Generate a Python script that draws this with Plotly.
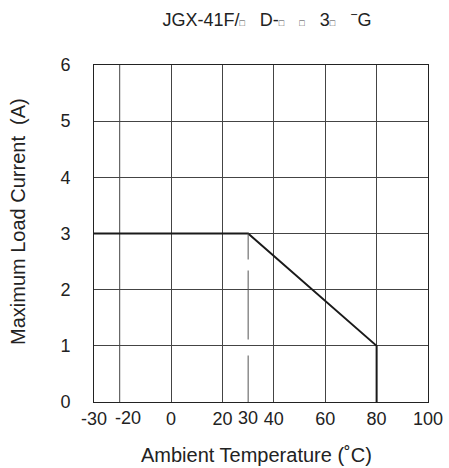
import plotly.graph_objects as go

# Data
temps = [-30, 30, 80, 80]
currents = [3, 3, 1, 0]
x_ticks = [-30, -20, 0, 20, 30, 40, 60, 80, 100]
y_ticks = [0, 1, 2, 3, 4, 5, 6]
dash_x = 30
dash_y = [3, 0]

FONT = "Liberation Sans, Arial, sans-serif"
NB = "\u00a0"
sq = '<span style="font-size:9px;fill:#444444">□</span>'
title_text = (f"JGX-41F/{sq}{NB*3}D-{sq}{NB*3}{sq}{NB*3}3{sq}{NB*3}"
              f"<sup>−</sup>G")

W, H = 449, 468
L, R, T, B = 94, 21, 65, 66

# ticks labelled by the axis; -20 and 30 get hand-offset labels (annotations)
special = {-20: 8, 30: 0}
axis_ticks = [v for v in x_ticks if v not in special]

fig = go.Figure()
fig.add_trace(go.Scatter(x=temps, y=currents, mode="lines",
                         line=dict(color="#1a1a1a", width=2), showlegend=False,
                         hoverinfo="skip"))
fig.add_shape(type="line", x0=dash_x, x1=dash_x, y0=dash_y[0], y1=dash_y[1],
              xref="x", yref="y",
              line=dict(color="#555555", width=1, dash="26px,11px,69px,16px,49px"))

fig.update_layout(
    width=W, height=H,
    margin=dict(l=L, r=R, t=T, b=B),
    paper_bgcolor="white", plot_bgcolor="white",
    font=dict(family=FONT, size=18, color="#222222"),
    title=dict(text=title_text, x=(267 - L) / (W - L - R), xref="paper",
               y=1 - 20 / H, yref="container", xanchor="center", yanchor="middle",
               font=dict(size=18, family=FONT, color="#222222")),
)
fig.update_xaxes(range=[-30, 100], tickvals=axis_ticks,
                 ticktext=[str(v) for v in axis_ticks], tickangle=0,
                 showgrid=True, gridcolor="#444444", gridwidth=1,
                 showline=True, linecolor="#222222", linewidth=1, mirror=True,
                 ticks="", ticklabelstandoff=0, zeroline=False,
                 automargin=False)
# gridline at -20 (label added separately)
fig.add_shape(type="line", x0=-20, x1=-20, y0=0, y1=6, xref="x", yref="y",
              line=dict(color="#444444", width=1), layer="below")
for v, dx in special.items():
    fig.add_annotation(x=v, y=0, xref="x", yref="y", text=str(v), showarrow=False,
                       yanchor="top", yshift=-4, xshift=dx,
                       font=dict(size=18, family=FONT, color="#222222"))
fig.update_yaxes(range=[0, 6], tickvals=y_ticks,
                 showgrid=True, gridcolor="#444444", gridwidth=1,
                 showline=True, linecolor="#222222", linewidth=1, mirror=True,
                 ticks="", ticklabelstandoff=19, zeroline=False,
                 automargin=False)
# axis titles
PH = H - T - B
fig.add_annotation(text="Ambient Temperature (˚C)", xref="paper", yref="paper",
                   x=(256.5 - L) / (W - L - R), y=0, yshift=-(455 - (H - B)),
                   xanchor="center", yanchor="middle", showarrow=False,
                   font=dict(size=20, family=FONT, color="#222222"))
fig.add_annotation(text="Maximum Load Current  (A)", xref="paper", yref="paper",
                   x=0, xshift=18 - L, y=((H - B) - 222) / PH, textangle=-90,
                   xanchor="center", yanchor="middle", showarrow=False,
                   font=dict(size=20, family=FONT, color="#222222"))

fig.write_html("out.html", config={"displayModeBar": False, "staticPlot": True},
               post_script="document.body.style.margin='0px';")
